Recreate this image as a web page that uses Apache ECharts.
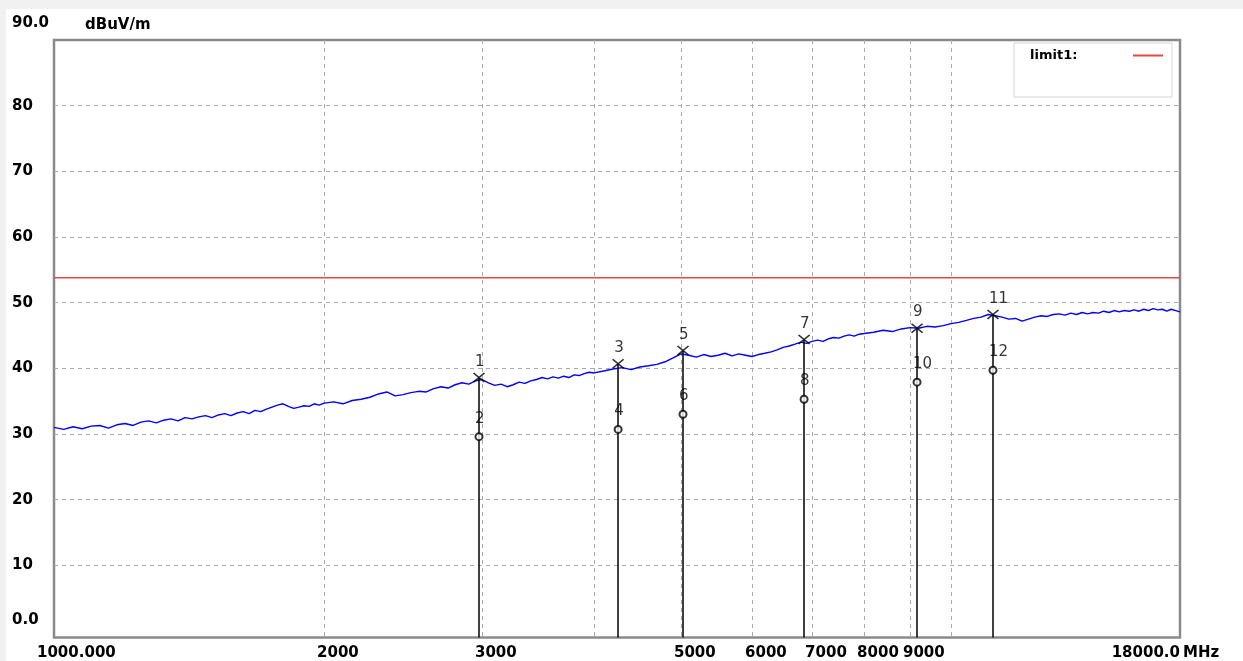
<!DOCTYPE html>
<html>
<head>
<meta charset="utf-8">
<script src="https://cdn.jsdelivr.net/npm/echarts@6/dist/echarts.min.js"></script>
<style>
  html, body { margin: 0; padding: 0; background: #f1f1f1; width: 1243px; height: 661px; overflow: hidden; }
  #chart { position: absolute; left: 6px; top: 9px; width: 1237px; height: 652px; background: #ffffff; }
</style>
</head>
<body>
<div id="chart"></div>
<script>
// ---- data (frequency in MHz, level in dBuV/m) ----
const traceFreq = [
  1000,1025,1050,1075,1100,1125,1150,1175,1200,1225,1250,1275,1300,1325,1350,1375,1400,1425,1450,1475,
  1500,1525,1550,1575,1600,1625,1650,1675,1700,1725,1750,1775,1800,1825,1850,1875,1900,1925,1950,1975,
  2000,2050,2100,2150,2200,2250,2300,2350,2400,2450,2500,2550,2600,2650,2700,2750,2800,2850,2900,2950,
  3000,3050,3100,3150,3200,3250,3300,3350,3400,3450,3500,3550,3600,3650,3700,3750,3800,3850,3900,3950,
  4000,4100,4200,4300,4400,4500,4600,4700,4800,4900,5000,5100,5200,5300,5400,5500,5600,5700,5800,5900,
  6000,6100,6200,6300,6400,6500,6600,6700,6800,6900,7000,7100,7200,7300,7400,7500,7600,7700,7800,7900,
  8000,8200,8400,8600,8800,9000,9200,9400,9600,9800,10000,10200,10400,10600,10800,11000,11200,11400,11600,11800,
  12000,12200,12400,12600,12800,13000,13200,13400,13600,13800,14000,14200,14400,14600,14800,15000,15200,15400,15600,15800,
  16000,16200,16400,16600,16800,17000,17200,17400,17600,17800,18000
];
const traceLevel = [
  31.0,30.7,31.1,30.8,31.2,31.3,30.9,31.4,31.6,31.3,31.8,32.0,31.7,32.1,32.3,32.0,32.5,32.3,32.6,32.8,
  32.5,32.9,33.1,32.8,33.2,33.4,33.1,33.6,33.4,33.8,34.1,34.4,34.6,34.2,33.9,34.1,34.3,34.2,34.6,34.4,
  34.7,34.9,34.6,35.1,35.3,35.6,36.1,36.4,35.8,36.0,36.3,36.5,36.4,36.9,37.2,37.0,37.5,37.8,37.6,38.1,
  38.3,37.8,37.4,37.6,37.2,37.5,37.9,37.7,38.1,38.3,38.6,38.4,38.7,38.5,38.8,38.6,39.0,38.9,39.2,39.4,
  39.3,39.6,39.9,40.1,39.8,40.2,40.4,40.6,41.0,41.6,42.2,42.0,41.7,42.1,41.8,42.0,42.3,41.9,42.2,42.0,
  41.8,42.1,42.3,42.5,42.8,43.2,43.4,43.7,44.0,43.8,44.1,44.3,44.1,44.5,44.7,44.6,44.9,45.1,44.9,45.2,
  45.3,45.5,45.8,45.6,46.0,46.2,46.1,46.4,46.3,46.5,46.8,47.0,47.3,47.6,47.8,48.2,48.0,47.8,47.5,47.6,
  47.2,47.5,47.8,48.0,47.9,48.2,48.3,48.1,48.4,48.2,48.5,48.3,48.5,48.4,48.7,48.5,48.8,48.6,48.8,48.7,
  48.9,48.7,49.0,48.8,49.1,48.9,49.0,48.7,49.0,48.8,48.6
];
const limitName = 'limit1:';
const limitFreq = [1000, 18000];
const limitLevel = [53.8, 53.8];

const markerFreq = [2977, 4255, 5026, 6858, 9165, 11137];
const peakLevel  = [38.6, 40.7, 42.7, 44.4, 46.1, 48.2];
const peakNum    = ['1', '3', '5', '7', '9', '11'];
const qpLevel    = [29.6, 30.7, 33.0, 35.3, 37.9, 39.7];
const qpNum      = ['2', '4', '6', '8', '10', '12'];

const xGridFreq   = [2000, 3000, 4000, 5000, 6000, 7000, 8000, 9000, 10000];
const xLabelFreq  = [1000, 2000, 3000, 5000, 6000, 7000, 8000, 9000, 18000];
const xLabelText  = ['1000.000', '2000', '3000', '5000', '6000', '7000', '8000', '9000', '18000.0'];
const xUnit = 'MHz';
const yGridValues  = [10, 20, 30, 40, 50, 60, 70, 80];
const yLabelValues = [0, 10, 20, 30, 40, 50, 60, 70, 80, 90];
const yLabelText   = ['0.0', '10', '20', '30', '40', '50', '60', '70', '80', '90.0'];
const yUnit = 'dBuV/m';
const yMin = -1, yMax = 90;

// ---- build ----
const lx = f => Math.log10(f);
const FONT = 'DejaVu Sans';

const chart = echarts.init(document.getElementById('chart'), null, { renderer: 'canvas' });

const option = {
  animation: false,
  backgroundColor: '#ffffff',
  grid: { left: 48, top: 31, right: 63, bottom: 23, show: true, borderColor: '#8a8a8a', borderWidth: 2.5, backgroundColor: 'transparent' },
  legend: {
    data: [{ name: limitName, icon: 'rect' }],
    left: 1008, top: 34,
    orient: 'vertical',
    align: 'right',
    itemWidth: 30, itemHeight: 2,
    padding: [6, 9, 35, 16],
    backgroundColor: '#ffffff',
    borderColor: '#d6d6d6', borderWidth: 1, borderRadius: 0,
    selectedMode: false,
    formatter: n => '{a|' + n + '}',
    textStyle: {
      fontFamily: FONT, fontWeight: 'bold', fontSize: 13, color: '#000',
      rich: { a: { width: 98, align: 'left', fontFamily: FONT, fontWeight: 'bold', fontSize: 13, color: '#000' } }
    }
  },
  xAxis: {
    type: 'value',
    min: lx(1000), max: lx(18000),
    name: xUnit, nameLocation: 'end', nameGap: 3, nameMoveOverlap: false,
    nameTextStyle: { fontFamily: FONT, fontWeight: 'bold', fontSize: 15, color: '#000', align: 'left', verticalAlign: 'top', padding: [15, 0, 0, 0] },
    axisLine: { show: false },
    axisTick: { show: false, customValues: xGridFreq.map(lx) },
    splitLine: { show: true, lineStyle: { color: '#a9a9a9', width: 1, type: [4, 4] } },
    axisLabel: {
      customValues: xLabelFreq.map(lx),
      interval: 0,
      margin: 8,
      align: 'center',
      alignMaxLabel: 'right',
      fontFamily: FONT, fontWeight: 'bold', fontSize: 15, color: '#000',
      formatter: function (v) {
        let idx = 0, best = 1e9;
        xLabelFreq.forEach((f, i) => { const d = Math.abs(lx(f) - v); if (d < best) { best = d; idx = i; } });
        if (idx === 0) return '{f|' + xLabelText[idx] + '}';
        if (idx === xLabelText.length - 1) return '{l|' + xLabelText[idx] + '}';
        return '{m|' + xLabelText[idx] + '}';
      },
      rich: {
        f: { width: 34, align: 'left', fontFamily: FONT, fontWeight: 'bold', fontSize: 15, color: '#000' },
        m: { width: 14, align: 'left', fontFamily: FONT, fontWeight: 'bold', fontSize: 15, color: '#000' },
        l: { fontFamily: FONT, fontWeight: 'bold', fontSize: 15, color: '#000' }
      }
    }
  },
  yAxis: {
    type: 'value',
    min: yMin, max: yMax,
    name: yUnit, nameLocation: 'end', nameGap: 15, nameMoveOverlap: false,
    nameTextStyle: { fontFamily: FONT, fontWeight: 'bold', fontSize: 15, color: '#000', align: 'left', verticalAlign: 'middle', padding: [0, 0, 0, 31] },
    axisLine: { show: false },
    axisTick: { show: false, customValues: yGridValues },
    splitLine: { show: true, lineStyle: { color: '#a9a9a9', width: 1, type: [4, 4] } },
    axisLabel: {
      customValues: yLabelValues,
      align: 'left', margin: 42,
      fontFamily: FONT, fontWeight: 'bold', fontSize: 15, color: '#000',
      formatter: function (v) {
        const i = yLabelValues.indexOf(Math.round(v));
        const t = i >= 0 ? yLabelText[i] : String(v);
        if (Math.round(v) === yMax) return '{t|' + t + '}';
        if (Math.round(v) === 0) return '{b|' + t + '}';
        return '{n|' + t + '}';
      },
      rich: {
        t: { padding: [0, 0, 34, 0], fontFamily: FONT, fontWeight: 'bold', fontSize: 15, color: '#000' },
        b: { padding: [0, 0, 22, 0], fontFamily: FONT, fontWeight: 'bold', fontSize: 15, color: '#000' },
        n: { fontFamily: FONT, fontWeight: 'bold', fontSize: 15, color: '#000' }
      }
    }
  },
  series: [
    {
      name: 'trace', type: 'line', symbol: 'none', z: 2, silent: true,
      lineStyle: { color: '#0000ff', width: 1.4 },
      data: traceFreq.map((f, i) => [lx(f), traceLevel[i]])
    },
    {
      name: limitName, type: 'line', symbol: 'none', z: 3, silent: true,
      color: '#e84545',
      lineStyle: { color: '#e84545', width: 1.5 },
      data: limitFreq.map((f, i) => [lx(f), limitLevel[i]])
    },
    {
      name: 'peak', type: 'scatter', z: 6, silent: true,
      symbol: 'path://M0,0L11,9M11,0L0,9',
      symbolSize: [11, 9],
      itemStyle: { color: '#000', borderColor: '#000', borderWidth: 1.6 },
      label: {
        show: true, position: 'top', distance: 3, align: 'left', offset: [-4, 0],
        fontFamily: FONT, fontSize: 15, color: '#000',
        formatter: p => peakNum[p.dataIndex]
      },
      data: markerFreq.map((f, i) => [lx(f), peakLevel[i]]),
      markLine: {
        silent: true, symbol: 'none', animation: false,
        label: { show: false },
        lineStyle: { color: '#000', width: 1.5, type: 'solid' },
        data: markerFreq.map((f, i) => [{ coord: [lx(f), peakLevel[i]] }, { coord: [lx(f), yMin] }])
      }
    },
    {
      name: 'qp', type: 'scatter', z: 6, silent: true,
      symbol: 'circle', symbolSize: 7,
      itemStyle: { color: '#ffffff', borderColor: '#000', borderWidth: 2 },
      label: {
        show: true, position: 'top', distance: 6, align: 'left', offset: [-4, 0],
        fontFamily: FONT, fontSize: 15, color: '#000',
        formatter: p => qpNum[p.dataIndex]
      },
      data: markerFreq.map((f, i) => [lx(f), qpLevel[i]])
    }
  ]
};
chart.setOption(option);
</script>
</body>
</html>
